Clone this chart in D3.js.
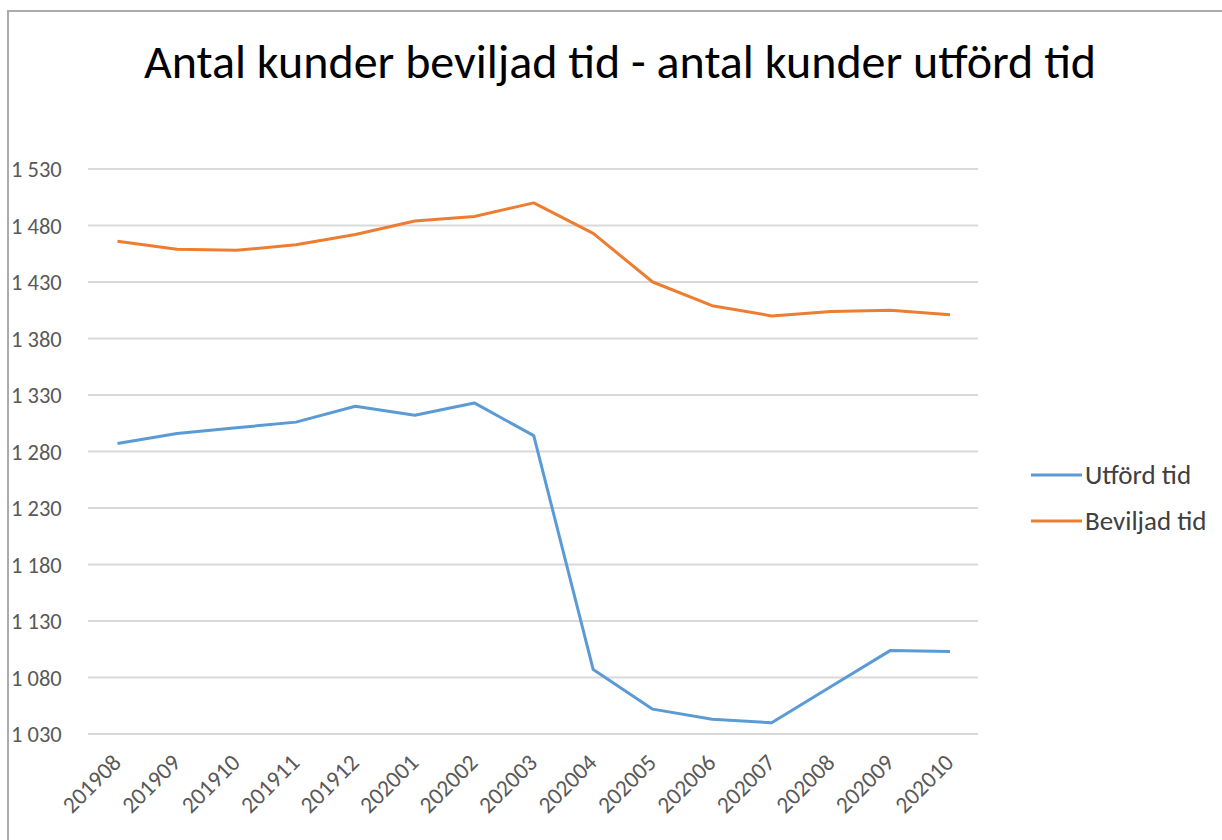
<!DOCTYPE html>
<html><head><meta charset="utf-8">
<script src="https://cdn.jsdelivr.net/npm/d3@7"></script>
<style>body{margin:0;background:#fff}svg{display:block}</style>
</head><body>
<svg id="c" width="1222" height="840"></svg>
<script>
const categories = ["201908","201909","201910","201911","201912","202001","202002","202003","202004","202005","202006","202007","202008","202009","202010"];
const utford = [1287,1296,1301,1306,1320,1312,1323,1294,1087,1052,1043,1040,1072,1104,1103];
const beviljad = [1466,1459,1458,1463,1472,1484,1488,1500,1473,1430,1409,1400,1404,1405,1401];
const yTicks = [1030,1080,1130,1180,1230,1280,1330,1380,1430,1480,1530];
const seriesNames = ["Utförd tid","Beviljad tid"];
const colors = ["#5b9bd5","#ed7d31"];

const svg = d3.select("#c");
const font = "Calibri, Carlito, 'Open Sans', sans-serif";

svg.append("rect").attr("x",8).attr("y",11).attr("width",1240).attr("height",860)
  .attr("fill","#fff").attr("stroke","#ababab").attr("stroke-width",2);

svg.append("text").attr("x",620).attr("y",78).attr("text-anchor","middle")
  .attr("font-family",font).attr("font-size",48).attr("fill","#000")
  .text("Antal kunder beviljad tid - antal kunder utförd tid");

const x = d3.scalePoint().domain(categories).range([117.5,950]);
const y = d3.scaleLinear().domain([1030,1530]).range([734,169]);

const grid = svg.append("g");
grid.selectAll("line").data(yTicks).join("line")
  .attr("x1",88).attr("x2",978).attr("y1",d=>y(d)).attr("y2",d=>y(d))
  .attr("stroke","#d9d9d9").attr("stroke-width",2);

svg.append("g").selectAll("text").data(yTicks).join("text")
  .attr("x",11).attr("y",d=>y(d)+8).attr("font-family",font).attr("font-size",22.5)
  .attr("fill","#595959").text(d=>d.toString().replace(/\B(?=(\d{3})+(?!\d))/g," "));

svg.append("g").selectAll("text").data(categories).join("text")
  .attr("transform",d=>`translate(${x(d)+5},${764}) rotate(-45)`)
  .attr("text-anchor","end").attr("font-family",font).attr("font-size",23.5)
  .attr("fill","#595959").text(d=>d);

const line = d3.line().x((d,i)=>x(categories[i])).y(d=>y(d));
[utford,beviljad].forEach((s,k)=>{
  svg.append("path").datum(s).attr("d",line).attr("fill","none")
    .attr("stroke",colors[k]).attr("stroke-width",3).attr("stroke-linejoin","round");
});

const leg = svg.append("g");
seriesNames.forEach((n,k)=>{
  const ly = 475 + k*46;
  leg.append("line").attr("x1",1031).attr("x2",1082).attr("y1",ly).attr("y2",ly)
    .attr("stroke",colors[k]).attr("stroke-width",3);
  leg.append("text").attr("x",1085).attr("y",ly+9).attr("font-family",font)
    .attr("font-size",27).attr("fill","#404040").text(n);
});
</script>
</body></html>
